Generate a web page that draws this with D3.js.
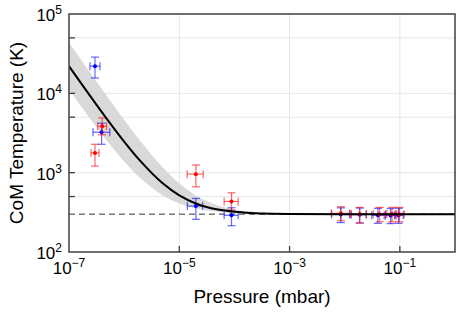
<!DOCTYPE html>
<html>
<head>
<meta charset="utf-8">
<script src="https://cdn.jsdelivr.net/npm/d3@7"></script>
<style>
  body { margin: 0; background: #fff; }
  text { font-family: "Liberation Sans", Arial, sans-serif; fill: #000; }
</style>
</head>
<body>
<div id="chart"></div>
<script>
////////////////////
// DATA

// red series: pressure (mbar), temperature (K), and error ranges
var redP    = [2.96e-7, 4.0e-7, 2.0e-5, 8.85e-5, 8.5e-3, 1.87e-2, 4.3e-2, 7.2e-2, 9.8e-2];
var redT    = [1775, 3850, 958, 434, 307, 301, 300, 302, 300];
var redPLo  = [2.5e-7, 3.3e-7, 1.39e-5, 6.5e-5, 5.7e-3, 1.32e-2, 3.3e-2, 5.8e-2, 8.3e-2];
var redPHi  = [3.5e-7, 4.8e-7, 2.71e-5, 1.17e-4, 1.23e-2, 2.47e-2, 5.5e-2, 8.8e-2, 1.2e-1];
var redTLo  = [1210, 3000, 663, 337, 248, 232, 240, 240, 240];
var redTHi  = [2280, 4900, 1250, 557, 372, 365, 365, 365, 365];

// blue series
var blueP   = [2.96e-7, 3.9e-7, 2.0e-5, 8.85e-5, 8.5e-3, 1.87e-2, 4.0e-2, 6.8e-2, 9.5e-2];
var blueT   = [22000, 3230, 379, 290, 297, 295, 290, 288, 290];
var bluePLo = [2.4e-7, 2.72e-7, 1.4e-5, 6.5e-5, 5.8e-3, 1.3e-2, 3.1e-2, 5.5e-2, 8.0e-2];
var bluePHi = [3.65e-7, 5.5e-7, 2.65e-5, 1.17e-4, 1.22e-2, 2.45e-2, 5.2e-2, 8.5e-2, 1.15e-1];
var blueTLo = [15600, 2280, 258, 214, 235, 232, 230, 228, 230];
var blueTHi = [28600, 4200, 473, 361, 360, 358, 355, 352, 355];

// fit line and its shaded band
var fitP    = [1e-7, 2e-7, 5e-7, 1e-6, 2e-6, 5e-6, 1e-5, 2e-5, 3e-5, 5e-5, 1e-4, 2e-4, 5e-4, 1e-3, 1e-2, 1e-1, 1];
var fitT    = [22000, 11150, 4640, 2470, 1385, 734, 517, 409, 372, 343, 322, 311, 304, 302, 300, 300, 300];
var bandLo  = [11150, 5725, 2470, 1385, 843, 517, 409, 354, 336, 322, 311, 305, 302, 301, 300, 300, 300];
var bandHi  = [43700, 22000, 8980, 4640, 2470, 1170, 734, 517, 445, 387, 343, 322, 309, 304, 300, 300, 300];

var roomT = 300;

// ticks
var xTicks = [1e-7, 1e-5, 1e-3, 1e-1];
var xTickExp = ["\u22127", "\u22125", "\u22123", "\u22121"];
var yTicks = [1e2, 1e3, 1e4, 1e5];
var yTickExp = ["2", "3", "4", "5"];
var yMinor = [5e2, 5e3, 5e4];

//////////////////
// SETUP
var w = 469, h = 323;
var margin = {top: 14, right: 14, bottom: 71, left: 69};

var x = d3.scaleLog().domain([1e-7, 1]).range([margin.left, w - margin.right]);
var y = d3.scaleLog().domain([1e2, 1e5]).range([h - margin.bottom, margin.top]);

var svg = d3.select("#chart").append("svg")
  .attr("width", w)
  .attr("height", h);

var x0 = margin.left, x1 = w - margin.right;
var y0 = h - margin.bottom, y1 = margin.top;

// clip for the plot area
svg.append("defs").append("clipPath").attr("id", "clip")
  .append("rect")
  .attr("x", x0).attr("y", y1)
  .attr("width", x1 - x0).attr("height", y0 - y1);

//////////////////
// GRID
var grid = svg.append("g").attr("stroke", "#e6e6e6").attr("stroke-width", 1);
grid.selectAll(".gx").data(xTicks.slice(1)).enter().append("line")
  .attr("x1", function(d) { return x(d); }).attr("x2", function(d) { return x(d); })
  .attr("y1", y0).attr("y2", y1);
grid.selectAll(".gy").data(yTicks.slice(1, 3).concat(yMinor)).enter().append("line")
  .attr("x1", x0).attr("x2", x1)
  .attr("y1", function(d) { return y(d); }).attr("y2", function(d) { return y(d); });

var plot = svg.append("g").attr("clip-path", "url(#clip)");

//////////////////
// BAND + LINES
var band = fitP.map(function(p, i) { return {p: p, lo: bandLo[i], hi: bandHi[i], t: fitT[i]}; });

plot.append("path")
  .datum(band)
  .attr("fill", "#d9d9d9")
  .attr("d", d3.area()
    .x(function(d) { return x(d.p); })
    .y0(function(d) { return y(d.lo); })
    .y1(function(d) { return y(d.hi); })
    .curve(d3.curveMonotoneX));

plot.append("line")
  .attr("x1", x0).attr("x2", x1)
  .attr("y1", y(roomT)).attr("y2", y(roomT))
  .attr("stroke", "#333")
  .attr("stroke-width", 1)
  .attr("stroke-dasharray", "6,4");

//////////////////
// ERROR BARS
function drawSeries(color, P, T, PLo, PHi, TLo, THi) {
  var pts = P.map(function(p, i) {
    return {p: p, t: T[i], pLo: PLo[i], pHi: PHi[i], tLo: TLo[i], tHi: THi[i]};
  });
  var cap = 4;
  var g = plot.append("g");
  var eb = g.selectAll("g").data(pts).enter().append("g")
    .attr("stroke", color)
    .attr("stroke-opacity", 0.6)
    .attr("stroke-width", 1.2);
  // vertical
  eb.append("line")
    .attr("x1", function(d) { return x(d.p); }).attr("x2", function(d) { return x(d.p); })
    .attr("y1", function(d) { return y(d.tLo); }).attr("y2", function(d) { return y(d.tHi); });
  eb.append("line")
    .attr("x1", function(d) { return x(d.p) - cap; }).attr("x2", function(d) { return x(d.p) + cap; })
    .attr("y1", function(d) { return y(d.tLo); }).attr("y2", function(d) { return y(d.tLo); });
  eb.append("line")
    .attr("x1", function(d) { return x(d.p) - cap; }).attr("x2", function(d) { return x(d.p) + cap; })
    .attr("y1", function(d) { return y(d.tHi); }).attr("y2", function(d) { return y(d.tHi); });
  // horizontal
  eb.append("line")
    .attr("x1", function(d) { return x(d.pLo); }).attr("x2", function(d) { return x(d.pHi); })
    .attr("y1", function(d) { return y(d.t); }).attr("y2", function(d) { return y(d.t); });
  eb.append("line")
    .attr("x1", function(d) { return x(d.pLo); }).attr("x2", function(d) { return x(d.pLo); })
    .attr("y1", function(d) { return y(d.t) - cap; }).attr("y2", function(d) { return y(d.t) + cap; });
  eb.append("line")
    .attr("x1", function(d) { return x(d.pHi); }).attr("x2", function(d) { return x(d.pHi); })
    .attr("y1", function(d) { return y(d.t) - cap; }).attr("y2", function(d) { return y(d.t) + cap; });
  g.selectAll("circle").data(pts).enter().append("circle")
    .attr("cx", function(d) { return x(d.p); })
    .attr("cy", function(d) { return y(d.t); })
    .attr("r", 2)
    .attr("fill", color);
}

drawSeries("#0000ff", blueP, blueT, bluePLo, bluePHi, blueTLo, blueTHi);
drawSeries("#ff0000", redP, redT, redPLo, redPHi, redTLo, redTHi);

plot.append("path")
  .datum(band)
  .attr("fill", "none")
  .attr("stroke", "#000")
  .attr("stroke-width", 2)
  .attr("d", d3.line()
    .x(function(d) { return x(d.p); })
    .y(function(d) { return y(d.t); })
    .curve(d3.curveMonotoneX));

//////////////////
// AXES / FRAME
var axisColor = "#404040";
var tickLen = 6;
var ticks = svg.append("g").attr("stroke", axisColor).attr("stroke-width", 1.3);
ticks.selectAll(".tx").data(xTicks.slice(1)).enter().append("line")
  .attr("x1", function(d) { return x(d); }).attr("x2", function(d) { return x(d); })
  .attr("y1", y0).attr("y2", y0 - tickLen);
ticks.selectAll(".ty").data(yTicks.slice(1, 3).concat(yMinor)).enter().append("line")
  .attr("x1", x0).attr("x2", x0 + tickLen)
  .attr("y1", function(d) { return y(d); }).attr("y2", function(d) { return y(d); });

svg.append("rect")
  .attr("x", x0).attr("y", y1)
  .attr("width", x1 - x0).attr("height", y0 - y1)
  .attr("fill", "none")
  .attr("stroke", axisColor)
  .attr("stroke-width", 1.5);

// tick labels
var xl = svg.append("g").selectAll("text").data(xTicks).enter().append("text")
  .attr("x", function(d) { return x(d); })
  .attr("y", y0 + 22)
  .attr("text-anchor", "middle")
  .style("font-size", "17px");
xl.append("tspan").text("10");
xl.append("tspan").attr("dy", -7).style("font-size", "12px")
  .text(function(d, i) { return xTickExp[i]; });

var yl = svg.append("g").selectAll("text").data(yTicks).enter().append("text")
  .attr("x", x0 - 7)
  .attr("y", function(d) { return y(d) + 7; })
  .attr("text-anchor", "end")
  .style("font-size", "17px");
yl.append("tspan").text("10");
yl.append("tspan").attr("dy", -7).style("font-size", "12px")
  .text(function(d, i) { return yTickExp[i]; });

// axis titles
svg.append("text")
  .attr("x", (x0 + x1) / 2)
  .attr("y", 303)
  .attr("text-anchor", "middle")
  .style("font-size", "19px")
  .text("Pressure (mbar)");

svg.append("text")
  .attr("transform", "translate(23," + ((y0 + y1) / 2) + ") rotate(-90)")
  .attr("text-anchor", "middle")
  .style("font-size", "19px")
  .text("CoM Temperature (K)");
</script>
</body>
</html>
